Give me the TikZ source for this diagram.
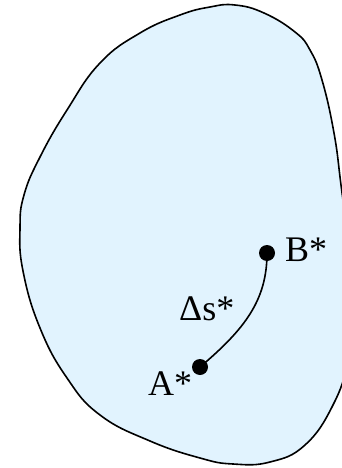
\documentclass[tikz,border=0pt]{standalone}
\usepackage{fontspec}
\setmainfont{Liberation Serif}
\definecolor{blobfill}{RGB}{225,243,254}
\begin{document}
\begin{tikzpicture}[x=1pt,y=-1pt,
  lbl/.style={anchor=base west,inner sep=0pt,font=\fontsize{36}{42}\selectfont},
  dot/.style={circle,fill=black,inner sep=0pt,minimum size=16pt}]
\useasboundingbox (0,0) rectangle (342,468);
\clip (0,0) rectangle (342,468);
\draw[line width=1.6pt,fill=blobfill] plot[smooth cycle,tension=0.75] coordinates {
(235,5) (264,13) (295,32) (310,50) (322,80) (334,133) (341,185) (349,250)
(352,310) (348,360) (333,405) (305,445) (270,462)
(233,464) (200,458) (150,441) (100,415) (67,378) (40,328) (23,271) (20,228)
(24,195) (40,157) (67,110) (100,63) (140,33) (180,15) (210,7)};
\node[dot] (A) at (200,367) {};
\node[dot] (B) at (267,253) {};
\draw[line width=1.6pt] (A.center) .. controls (245,329) and (267,300) .. (B.center);
\node[lbl] (Bl) at (285,261) {B*};
\node[lbl] (Al) at (148,395) {A*};
\node[lbl] (Sl) at (179,320) {Δs*};
\end{tikzpicture}
\end{document}
